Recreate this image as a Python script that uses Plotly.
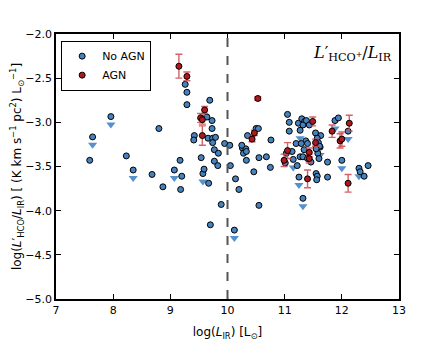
import plotly.graph_objects as go

# --- No AGN detections: log(L_IR), log(L'HCO+/L_IR) ---
noagn_x = [7.59, 8.23, 8.68, 8.87, 8.80, 9.20, 9.18, 9.17, 9.26, 9.29, 9.29, 9.69,
           9.64, 9.73, 9.73, 9.42, 9.41, 9.66, 9.74, 9.79, 9.74, 9.95, 10.04, 9.77,
           9.84, 9.54, 9.59, 9.67, 9.89, 9.70, 9.77, 9.83, 10.05, 10.14, 10.20, 10.35,
           10.50, 10.54, 10.26, 10.32, 10.28, 10.33, 10.33, 10.55, 10.68, 10.46, 10.76,
           10.75, 10.55, 10.25,
           11.05, 11.08, 11.08, 11.24, 11.30, 11.35, 11.32, 11.38, 11.43, 11.54, 11.63,
           11.57, 11.37, 11.20, 11.29, 11.40, 11.59, 11.61, 11.03, 11.13, 11.01, 11.22,
           11.27, 11.32, 11.40, 11.34, 11.46, 11.58, 11.60, 11.55, 11.75, 11.55, 11.57,
           11.56, 11.75, 11.94, 12.32, 12.39, 12.46]
noagn_y = [-3.43, -3.38, -3.59, -3.73, -3.07, -3.61, -3.76, -3.43, -2.57, -2.66, -2.80, -2.75,
           -2.94, -2.98, -3.07, -3.15, -3.20, -3.18, -3.18, -3.17, -3.23, -3.24, -3.26, -3.31,
           -3.35, -3.40, -3.53, -3.69, -3.93, -4.16, -3.44, -3.49, -3.49, -3.64, -3.76, -3.15,
           -3.07, -3.07, -3.29, -3.30, -3.35, -3.33, -3.43, -3.40, -3.39, -3.56, -3.20,
           -3.51, -3.94, -3.26,
           -2.91, -3.00, -3.10, -3.01, -2.96, -2.99, -3.03, -2.98, -3.03, -3.12, -3.15,
           -3.18, -3.21, -3.24, -3.24, -3.24, -3.23, -3.27, -3.35, -3.33, -3.46, -3.49,
           -3.39, -3.39, -3.41, -3.31, -3.45, -3.35, -3.41, -3.30, -3.45, -3.58, -3.61,
           -3.65, -3.62, -2.95, -3.56, -3.61, -3.49]

# --- No AGN upper limits ---
lim_x = [7.96, 7.64, 8.35, 9.07, 9.57, 10.12, 11.27, 11.15, 11.25, 11.32, 11.88, 12.11,
         12.00, 12.30, 11.62]
lim_y = [-2.935, -3.165, -3.54, -3.54, -3.58, -4.22, -3.09, -3.42, -3.62, -3.86, -2.98, -3.10,
         -3.43, -3.52, -3.28]
lim_arrow = 0.09  # arrow drawn just below the limit value (dex)

# --- AGN detections with errors ---
agn_x = [9.15, 9.29, 9.60, 9.53, 9.56, 9.56, 10.53, 10.47, 10.43, 11.49, 11.54, 11.05,
         10.99, 11.43, 11.43, 11.40, 12.11, 11.83, 11.97, 12.00, 12.13]
agn_y = [-2.365, -2.48, -2.86, -2.95, -2.97, -3.15, -2.73, -3.12, -3.19, -2.99, -3.23, -3.32,
         -3.43, -3.34, -3.41, -3.64, -3.69, -3.10, -3.21, -3.19, -3.01]
agn_err = [0.135, 0.05, 0.04, 0.05, 0.05, 0.11, 0.02, 0.03, 0.03, 0.05, 0.04, 0.09,
           0.07, 0.05, 0.05, 0.10, 0.10, 0.07, 0.08, 0.08, 0.09]

BLUE = "rgb(70,130,190)"
ARROW = "rgb(85,145,205)"
RED = "rgb(175,25,30)"
ERR = "rgba(205,70,80,0.85)"
FONT = "DejaVu Sans, Liberation Sans, sans-serif"

fig = go.Figure()

# upper-limit arrows
fig.add_trace(go.Scatter(
    x=lim_x, y=[v - lim_arrow for v in lim_y], mode="markers",
    marker=dict(symbol="triangle-down", size=8, color=ARROW, line=dict(width=0)),
    showlegend=False, hoverinfo="skip"
))
fig.add_trace(go.Scatter(
    x=lim_x, y=lim_y, mode="markers",
    marker=dict(symbol="circle", size=6, color=BLUE, line=dict(color="black", width=1)),
    showlegend=False
))
fig.add_trace(go.Scatter(
    x=noagn_x, y=noagn_y, mode="markers", name="No AGN",
    marker=dict(symbol="circle", size=6, color=BLUE, line=dict(color="black", width=1))
))
fig.add_trace(go.Scatter(
    x=agn_x, y=agn_y, mode="markers", name="AGN",
    error_y=dict(type="data", array=agn_err, color=ERR, thickness=1.4, width=3.5),
    marker=dict(symbol="circle", size=6, color=RED, line=dict(color="black", width=1))
))

# L_IR = 10^10 divider
fig.add_vline(x=10, line=dict(color="#555555", width=2, dash="dash"))

fig.add_annotation(
    x=0.985, y=0.975, xref="paper", yref="paper", xanchor="right", yanchor="top",
    text="<i>L</i>′<sub>HCO<sup>+</sup></sub>/<i>L</i><sub>IR</sub>",
    showarrow=False, font=dict(family="DejaVu Serif, Liberation Serif, serif", size=16, color="black")
)

axis = dict(showline=True, linecolor="black", linewidth=1.5, mirror="ticks",
            ticks="inside", ticklen=5, tickcolor="black", showgrid=False, zeroline=False,
            automargin=False, tickfont=dict(family=FONT, size=11, color="black"))

fig.update_layout(
    width=443, height=346,
    margin=dict(l=48, r=52, t=26, b=55),
    paper_bgcolor="white", plot_bgcolor="white",
    font=dict(family=FONT, color="black"),
    xaxis=dict(range=[7, 13], dtick=1, tick0=7,
               title=dict(text="log(<i>L</i><sub>IR</sub>) [L<sub>⊙</sub>]",
                          font=dict(size=12), standoff=12), **axis),
    yaxis=dict(range=[-5, -2], dtick=0.5, tickformat=".1f",
               title=dict(text="log(<i>L</i>′<sub>HCO</sub>/<i>L</i><sub>IR</sub>) [ (K km s<sup>−1</sup> pc<sup>2</sup>) L<sub>⊙</sub><sup>−1</sup>]",
                          font=dict(size=12), standoff=4), **axis),
    legend=dict(x=0.015, y=0.975, xanchor="left", yanchor="top",
                bgcolor="white", bordercolor="black", borderwidth=1,
                font=dict(size=11), itemsizing="trace", itemwidth=30, tracegroupgap=0),
    showlegend=True
)

fig.write_html("out.html")
